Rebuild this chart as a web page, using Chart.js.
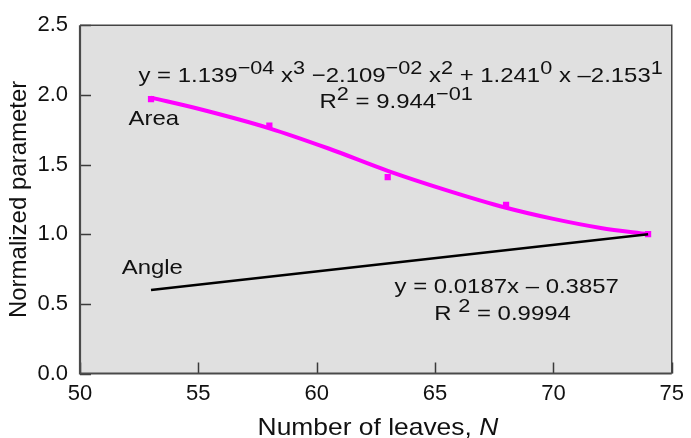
<!DOCTYPE html>
<html>
<head>
<meta charset="utf-8">
<script src="https://cdn.jsdelivr.net/npm/chart.js@4.4.1/dist/chart.umd.min.js"></script>
<style>
  html, body { margin: 0; padding: 0; background: #fff; }
  #wrap { width: 691px; height: 438px; }
</style>
</head>
<body>
<div id="wrap"><canvas id="chart" width="691" height="438"></canvas></div>
<script>
// values
const areaLeaves = [53, 58, 63, 68, 74];
const areaValues = [1.97, 1.78, 1.41, 1.21, 1.0];

// fitted cubic trend as drawn (read at several points along the curve)
const areaFitLeaves = [53, 55, 58, 60.5, 63, 65.5, 68, 70, 72, 74];
const areaFitValues = [1.98, 1.90, 1.76, 1.615, 1.455, 1.315, 1.19, 1.11, 1.045, 1.0];

// linear trend for the angle
const angleLeaves = [53, 74];
const angleValues = [0.60, 1.0];

const xTicks = [50, 55, 60, 65, 70, 75];
const yTicks = [0, 0.5, 1.0, 1.5, 2.0, 2.5];

const MAGENTA = "#ff00ff";
const INK = "#111111";
const FONT = "'Liberation Sans', Arial, sans-serif";
const STRETCH = 1.14; // reference text is a little wide

function toPoints(xs, ys) {
  return xs.map((x, i) => ({ x: x, y: ys[i] }));
}

// text pieces: sup = superscript
const notes = [
  { x: 52.47, y: 2.093, runs: [
    { t: "y = 1.139" }, { t: "\u221204", sup: true }, { t: " x" }, { t: "3", sup: true },
    { t: " \u22122.109" }, { t: "\u221202", sup: true }, { t: " x" }, { t: "2", sup: true },
    { t: " + 1.241" }, { t: "0", sup: true }, { t: " x \u20132.153" }, { t: "1", sup: true } ] },
  { x: 60.12, y: 1.908, runs: [ { t: "R" }, { t: "2", sup: true }, { t: " = 9.944" }, { t: "\u221201", sup: true } ] },
  { x: 52.05, y: 1.787, runs: [ { t: "Area" } ] },
  { x: 51.76, y: 0.717, runs: [ { t: "Angle" } ] },
  { x: 63.29, y: 0.576, runs: [ { t: "y = 0.0187x \u2013 0.3857" } ] },
  { x: 64.97, y: 0.382, runs: [ { t: "R " }, { t: "2", sup: true }, { t: " = 0.9994" } ] },
];

function drawRuns(ctx, runs, x, y, size, stretch) {
  ctx.save();
  ctx.translate(x, y);
  ctx.scale(stretch, 1);
  ctx.fillStyle = INK;
  ctx.textAlign = "left";
  ctx.textBaseline = "alphabetic";
  let cx = 0;
  runs.forEach((r) => {
    const fs = r.sup ? size - 2 : size;
    ctx.font = (r.italic ? "italic " : "") + fs + "px " + FONT;
    ctx.fillText(r.t, cx, r.sup ? -8 : 0);
    cx += ctx.measureText(r.t).width;
  });
  ctx.restore();
}

function runsWidth(ctx, runs, size) {
  let w = 0;
  runs.forEach((r) => {
    const fs = r.sup ? size - 2 : size;
    ctx.font = (r.italic ? "italic " : "") + fs + "px " + FONT;
    w += ctx.measureText(r.t).width;
  });
  return w;
}

const framePlugin = {
  id: "frame",
  beforeDatasetsDraw(chart) {
    const { ctx, chartArea: a } = chart;
    ctx.save();
    ctx.fillStyle = "#e0e0e0";
    ctx.fillRect(a.left, a.top, a.right - a.left, a.bottom - a.top);
    ctx.restore();
  },
  afterDatasetsDraw(chart) {
    const { ctx, chartArea: a, scales } = chart;
    ctx.save();
    // inward ticks
    ctx.strokeStyle = "#3a3a3a";
    ctx.lineWidth = 1.5;
    xTicks.forEach((v) => {
      const px = Math.round(scales.x.getPixelForValue(v)) + 0.5;
      ctx.beginPath();
      ctx.moveTo(px, a.bottom);
      ctx.lineTo(px, a.bottom - 11);
      ctx.stroke();
    });
    yTicks.forEach((v) => {
      const py = Math.round(scales.y.getPixelForValue(v)) + 0.5;
      ctx.beginPath();
      ctx.moveTo(a.left, py);
      ctx.lineTo(a.left + 11, py);
      ctx.stroke();
    });
    // frame
    ctx.strokeStyle = "#444";
    ctx.lineWidth = 1.5;
    ctx.beginPath();
    ctx.moveTo(a.left, a.top);
    ctx.lineTo(a.right, a.top);
    ctx.lineTo(a.right, a.bottom);
    ctx.stroke();
    ctx.lineWidth = 2.2;
    ctx.strokeStyle = "#4a4a4a";
    ctx.beginPath();
    ctx.moveTo(a.left, a.top);
    ctx.lineTo(a.left, a.bottom);
    ctx.lineTo(a.right, a.bottom);
    ctx.stroke();
    ctx.restore();
  },
  afterDraw(chart) {
    const { ctx, chartArea: a, scales } = chart;
    notes.forEach((n) => {
      drawRuns(ctx, n.runs, scales.x.getPixelForValue(n.x), scales.y.getPixelForValue(n.y), 21, STRETCH);
    });
    // x axis title with italic N
    const title = [{ t: "Number of leaves, " }, { t: "N", italic: true }];
    const w = runsWidth(ctx, title, 24) * 1.1;
    const cx = (a.left + a.right) / 2 + 2;
    drawRuns(ctx, title, cx - w / 2, a.bottom + 61.5, 24, 1.1);
  },
};

new Chart(document.getElementById("chart"), {
  type: "scatter",
  data: {
    datasets: [
      {
        label: "Angle",
        data: toPoints(angleLeaves, angleValues),
        showLine: true,
        borderColor: "#000",
        borderWidth: 2.5,
        pointRadius: 0,
      },
      {
        label: "Area fit",
        data: toPoints(areaFitLeaves, areaFitValues),
        showLine: true,
        borderColor: MAGENTA,
        borderWidth: 4,
        cubicInterpolationMode: "monotone",
        pointRadius: 0,
      },
      {
        label: "Area",
        data: toPoints(areaLeaves, areaValues),
        showLine: false,
        pointStyle: "rect",
        pointRadius: 4.4,
        backgroundColor: MAGENTA,
        borderColor: MAGENTA,
        borderWidth: 0,
      },
    ],
  },
  options: {
    responsive: false,
    animation: false,
    layout: { padding: { top: 23, right: 13, left: 0, bottom: 0 } },
    plugins: { legend: { display: false }, tooltip: { enabled: false } },
    scales: {
      x: {
        type: "linear",
        min: 50,
        max: 75,
        afterBuildTicks: (s) => { s.ticks = xTicks.map((v) => ({ value: v })); },
        afterFit: (s) => { s.height = 64.5; },
        grid: { display: false, drawTicks: false },
        border: { display: false },
        ticks: { color: INK, padding: 7, font: { family: FONT, size: 22 } },
      },
      y: {
        type: "linear",
        min: 0,
        max: 2.5,
        afterBuildTicks: (s) => { s.ticks = yTicks.map((v) => ({ value: v })); },
        afterFit: (s) => { s.width = 80; },
        grid: { display: false, drawTicks: false },
        border: { display: false },
        ticks: {
          color: INK,
          padding: 12,
          font: { family: FONT, size: 22 },
          callback: (v) => Number(v).toFixed(1),
        },
        title: {
          display: true,
          text: "Normalized parameter",
          color: INK,
          font: { family: FONT, size: 24 },
          padding: { top: 5, bottom: 0 },
        },
      },
    },
  },
  plugins: [framePlugin],
});
</script>
</body>
</html>
